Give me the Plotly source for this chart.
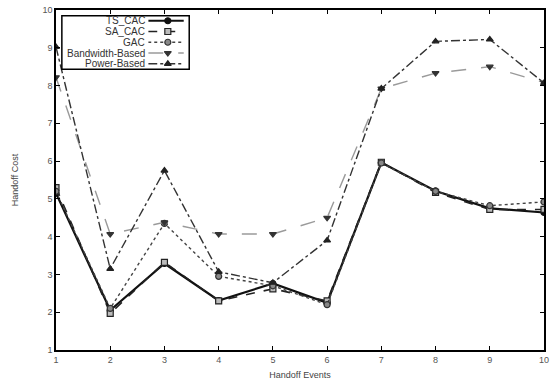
import plotly.graph_objects as go

events = [1, 2, 3, 4, 5, 6, 7, 8, 9, 10]
ts_cac = [5.15, 2.05, 3.29, 2.31, 2.76, 2.25, 5.96, 5.21, 4.75, 4.64]
sa_cac = [5.30, 1.97, 3.32, 2.30, 2.62, 2.30, 5.97, 5.17, 4.72, 4.72]
gac = [5.20, 2.10, 4.35, 2.95, 2.70, 2.20, 5.95, 5.20, 4.82, 4.92]
bandwidth = [8.22, 4.07, 4.38, 4.07, 4.07, 4.50, 7.92, 8.33, 8.50, 8.08]
power = [9.02, 3.15, 5.75, 3.07, 2.78, 3.90, 7.92, 9.17, 9.22, 8.07]

names = ["TS_CAC", "SA_CAC", "GAC", "Bandwidth-Based", "Power-Based"]
series = [ts_cac, sa_cac, gac, bandwidth, power]
styles = [
    dict(color="#111111", width=2.2, dash="solid", symbol="circle", mcolor="#111111", lcolor="#111111", size=6),
    dict(color="#222222", width=1.6, dash="dash", symbol="square", mcolor="#bbbbbb", lcolor="#222222", size=6),
    dict(color="#444444", width=1.4, dash="dot", symbol="circle", mcolor="#888888", lcolor="#333333", size=6),
    dict(color="#9a9a9a", width=1.4, dash="longdash", symbol="triangle-down", mcolor="#333333", lcolor="#333333", size=6),
    dict(color="#333333", width=1.4, dash="dashdot", symbol="triangle-up", mcolor="#222222", lcolor="#222222", size=6),
]

fig = go.Figure()
for name, ys, st in zip(names, series, styles):
    fig.add_trace(go.Scatter(
        x=events, y=ys, mode="lines+markers", name=name, showlegend=False,
        line=dict(color=st["color"], width=st["width"], dash=st["dash"]),
        marker=dict(symbol=st["symbol"], size=st["size"], color=st["mcolor"],
                    line=dict(color=st["lcolor"], width=1.2)),
    ))

# custom gnuplot-style legend (text left, sample right)
for i, (name, st) in enumerate(zip(names, styles)):
    fig.add_trace(go.Scatter(
        x=[0, 1, 2], y=[i, i, i], xaxis="x2", yaxis="y2", mode="lines",
        line=dict(color=st["color"], width=st["width"], dash=st["dash"]),
        showlegend=False, hoverinfo="skip"))
    fig.add_trace(go.Scatter(
        x=[1.1], y=[i], xaxis="x2", yaxis="y2", mode="markers",
        marker=dict(symbol=st["symbol"], size=st["size"], color=st["mcolor"],
                    line=dict(color=st["lcolor"], width=1.2)),
        showlegend=False, hoverinfo="skip"))
    fig.add_annotation(text=name, xref="paper", yref="y2", x=0.186, y=i,
                       xanchor="right", yanchor="middle", showarrow=False,
                       font=dict(family="Liberation Sans, Arial", size=10, color="#333333"))

fig.add_shape(type="rect", xref="paper", yref="paper", x0=0.012, x1=0.273,
              y0=0.826, y1=0.983, line=dict(color="black", width=1.5))

axis_font = dict(family="Liberation Sans, Arial", size=9, color="#555555")
title_font = dict(family="Liberation Sans, Arial", size=9, color="#444444")
fig.update_layout(
    width=558, height=386,
    margin=dict(l=56, r=14, t=5, b=36),
    paper_bgcolor="white", plot_bgcolor="white",
    xaxis=dict(range=[1, 10], tickmode="array", tickvals=events, ticks="inside",
               ticklen=4, tickcolor="black", showline=True, linecolor="black",
               linewidth=1.5, mirror="allticks", showgrid=False, zeroline=False,
               tickfont=axis_font,
               title=dict(text="Handoff Events", font=title_font, standoff=8)),
    yaxis=dict(range=[1, 10], dtick=1, ticks="inside", ticklen=4, tickcolor="black",
               showline=True, linecolor="black", linewidth=1.5, mirror="allticks",
               showgrid=False, zeroline=False, tickfont=axis_font,
               title=dict(text="Handoff Cost", font=title_font, standoff=22)),
    xaxis2=dict(domain=[0.189, 0.262], range=[0, 2], visible=False, anchor="y2"),
    yaxis2=dict(domain=[0.826, 0.983], range=[4.5, -0.46], visible=False, anchor="x2"),
)

fig.write_html("out.html")
